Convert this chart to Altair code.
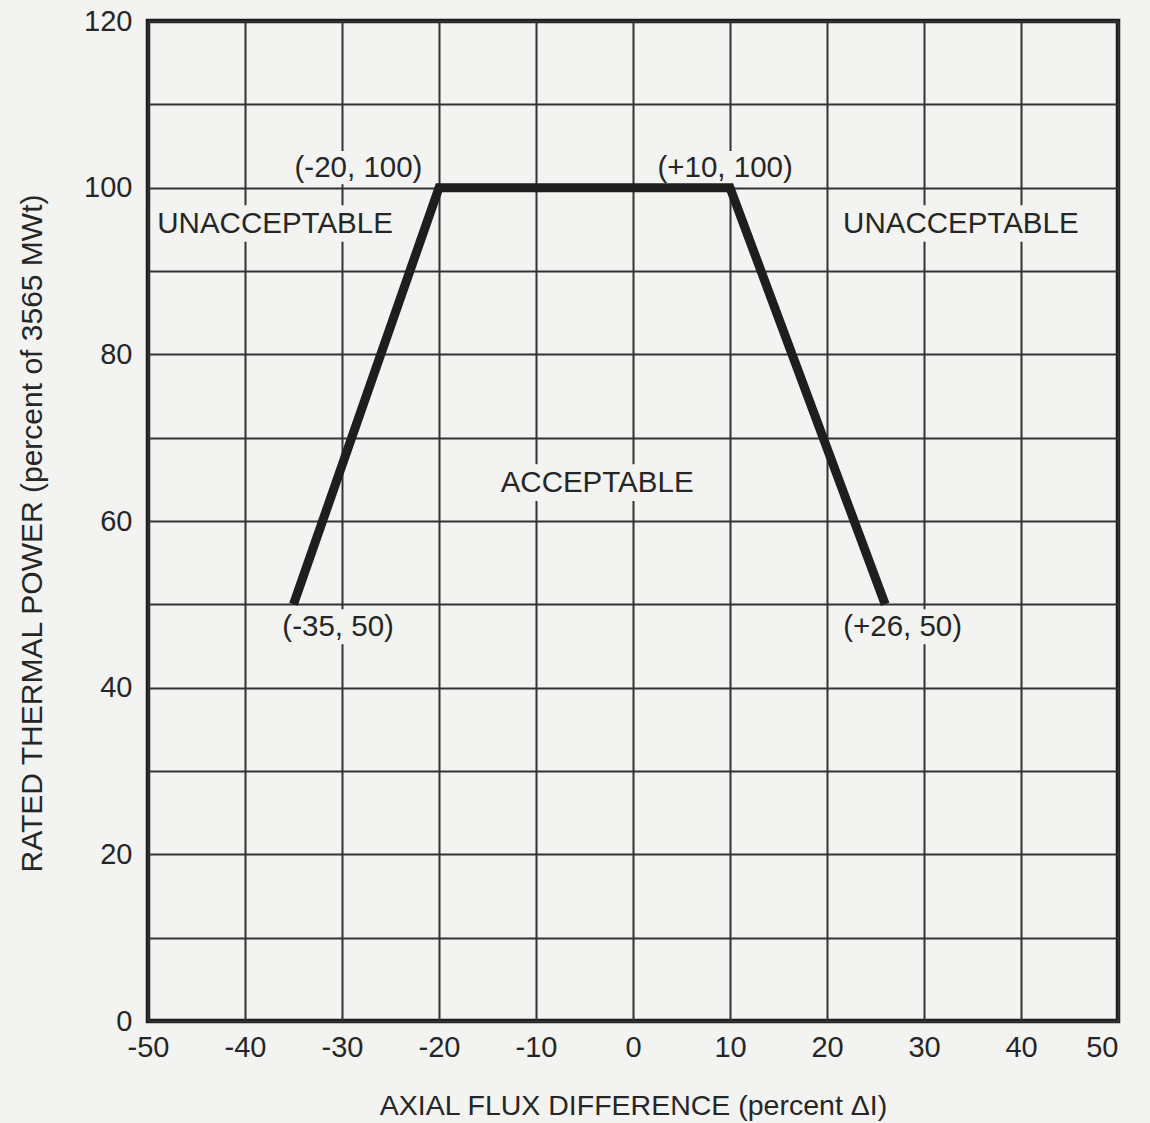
import altair as alt
import pandas as pd

# Limit curve vertices
afd = [-35, -20, 10, 26]
power = [50, 100, 100, 50]

x_ticks = [-50, -40, -30, -20, -10, 0, 10, 20, 30, 40, 50]
y_ticks = [0, 10, 20, 30, 40, 50, 60, 70, 80, 90, 100, 110, 120]

# Annotation text and placement (data coordinates)
ann_text = ["UNACCEPTABLE", "UNACCEPTABLE", "ACCEPTABLE", "(-20, 100)", "(+10, 100)", "(-35, 50)", "(+26, 50)"]
ann_x = [-36.9, 33.8, -3.7, -28.3, 9.5, -30.4, 27.8]
ann_y = [95.7, 95.7, 64.6, 102.4, 102.4, 47.3, 47.3]
ann_halfw = [12.8, 12.8, 10.4, 6.8, 7.1, 6.0, 6.5]
ann_halfh = [2.2, 2.2, 2.2, 2.0, 2.0, 2.1, 2.1]

BG = "#f3f3f1"
INK = "#262626"
FONT = "Liberation Sans"

line_df = pd.DataFrame({"x": afd, "y": power})
ann_df = pd.DataFrame({
    "text": ann_text, "x": ann_x, "y": ann_y,
    "x0": [a - w for a, w in zip(ann_x, ann_halfw)],
    "x1": [a + w for a, w in zip(ann_x, ann_halfw)],
    "y0": [a - h for a, h in zip(ann_y, ann_halfh)],
    "y1": [a + h for a, h in zip(ann_y, ann_halfh)],
})

xscale = alt.Scale(domain=[-50, 50], nice=False, zero=False)
yscale = alt.Scale(domain=[0, 120], nice=False, zero=False)

xaxis = alt.Axis(
    values=x_ticks, title="AXIAL FLUX DIFFERENCE  (percent \u0394I)",
    labelExpr="toString(datum.value)",
    labelFlush=False,
    labelAlign=alt.expr("datum.value == 50 ? 'right' : 'center'"),
    grid=True, gridColor="#333333", gridWidth=2, domain=False, ticks=False,
    labelFont=FONT, labelFontSize=29, labelColor=INK, labelPadding=12,
    titleFont=FONT, titleFontSize=28.5, titleFontWeight="normal", titleColor=INK,
    titleY=84, titleBaseline="middle",
)
yaxis = alt.Axis(
    values=y_ticks, title="RATED THERMAL POWER (percent of 3565 MWt)",
    labelExpr="datum.value % 20 == 0 ? toString(datum.value) : ''",
    labelFlush=False,
    grid=True, gridColor="#333333", gridWidth=2, domain=False, ticks=False,
    labelFont=FONT, labelFontSize=29, labelColor=INK, labelPadding=16,
    titleFont=FONT, titleFontSize=30, titleFontWeight="normal", titleColor=INK,
    titleX=-116, titleY=512, titleAngle=270, titleBaseline="middle", titleAlign="center",
)

base = alt.Chart(line_df)

curve = base.mark_line(color="#1e1e1e", strokeWidth=9, strokeJoin="miter").encode(
    x=alt.X("x:Q", scale=xscale, axis=xaxis),
    y=alt.Y("y:Q", scale=yscale, axis=yaxis),
)

boxes = alt.Chart(ann_df).mark_rect(color=BG).encode(
    x=alt.X("x0:Q", scale=xscale), x2="x1:Q",
    y=alt.Y("y0:Q", scale=yscale), y2="y1:Q",
)

labels = alt.Chart(ann_df).mark_text(
    font=FONT, fontSize=29.5, color=INK, align="center", baseline="middle"
).encode(
    x=alt.X("x:Q", scale=xscale),
    y=alt.Y("y:Q", scale=yscale),
    text="text:N",
)

chart = alt.layer(boxes, curve, labels).properties(
    width=970, height=1000,
    autosize="none",
    padding={"left": 148, "top": 21, "right": 32, "bottom": 102},
    background=BG,
).configure_view(stroke="#1a1a1a", strokeWidth=4.5)

chart.save("out.html", embed_options={"renderer": "svg", "actions": False})
